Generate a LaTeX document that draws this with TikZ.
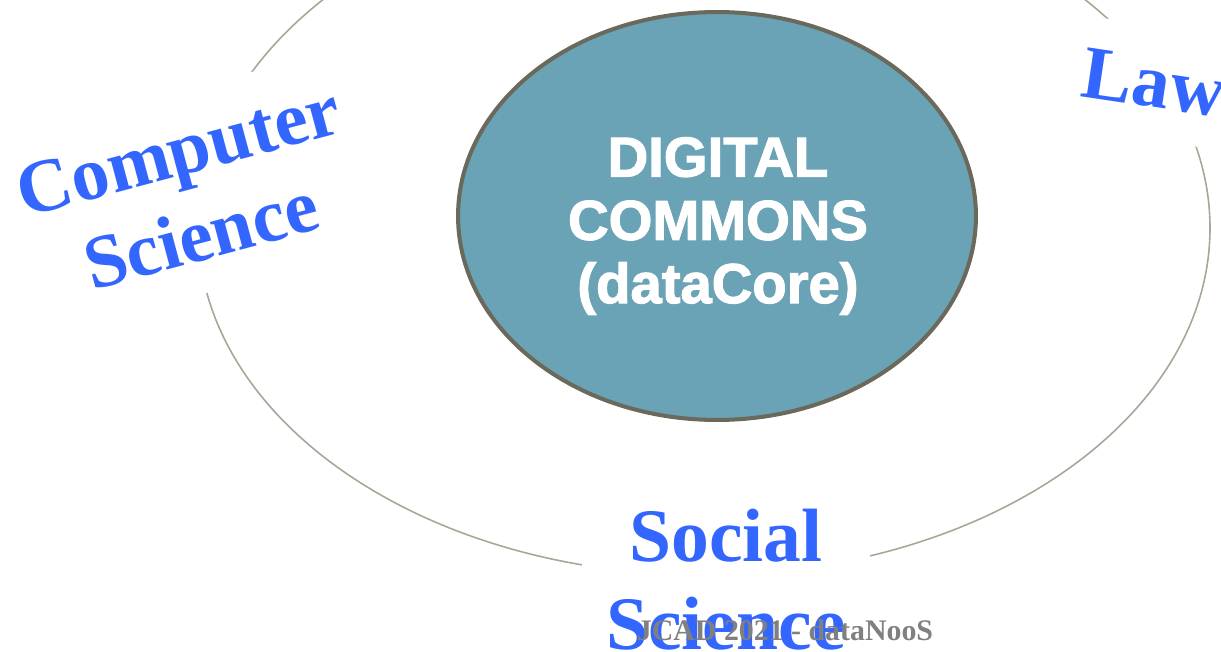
\documentclass[tikz,border=0pt]{standalone}
\usepackage{fontspec}
\setmainfont{Liberation Serif}
\newfontfamily\corefont[FakeBold=2]{Liberation Sans}
\usetikzlibrary{shapes.geometric}
\definecolor{fieldblue}{RGB}{51,102,255}
\definecolor{corefill}{RGB}{106,163,182}
\definecolor{coreline}{RGB}{107,104,92}
\definecolor{ringgray}{RGB}{168,166,150}
\definecolor{footgray}{RGB}{128,128,128}

\begin{document}
\begin{tikzpicture}[x=0.02cm,y=-0.02cm,
	field/.style={color=fieldblue,fill=white,align=center,inner xsep=14pt,inner ysep=18pt,font=\fontsize{43}{50}\selectfont\bfseries},
	core/.style={ellipse,draw=coreline,line width=2.3pt,fill=corefill,minimum width=10.36cm,minimum height=8.16cm,inner sep=0pt}]
	\useasboundingbox (0,0) rectangle (1221,652);
	\draw [color=ringgray,line width=0.9pt] (704,228) ellipse [x radius=506,y radius=347];
	\node [core] (dc) at (717,216) {};
	\node [color=white,align=center,font=\corefont\fontsize{32}{36}\selectfont\bfseries] (dclabel) at (718,226) {DIGITAL\\COMMONS\\(dataCore)};
	\node [field,rotate=15] (cs) at (190,193) {Computer\\Science};
	\node [field,rotate=-8.5] (law) at (1154,83) {Law};
	\node [field] (ss) at (726,580) {Social\\Science};
	\node [color=footgray,anchor=base,font=\fontsize{17}{20}\selectfont\bfseries] (foot) at (785,640) {JCAD 2021 - dataNooS};
\end{tikzpicture}
\end{document}
